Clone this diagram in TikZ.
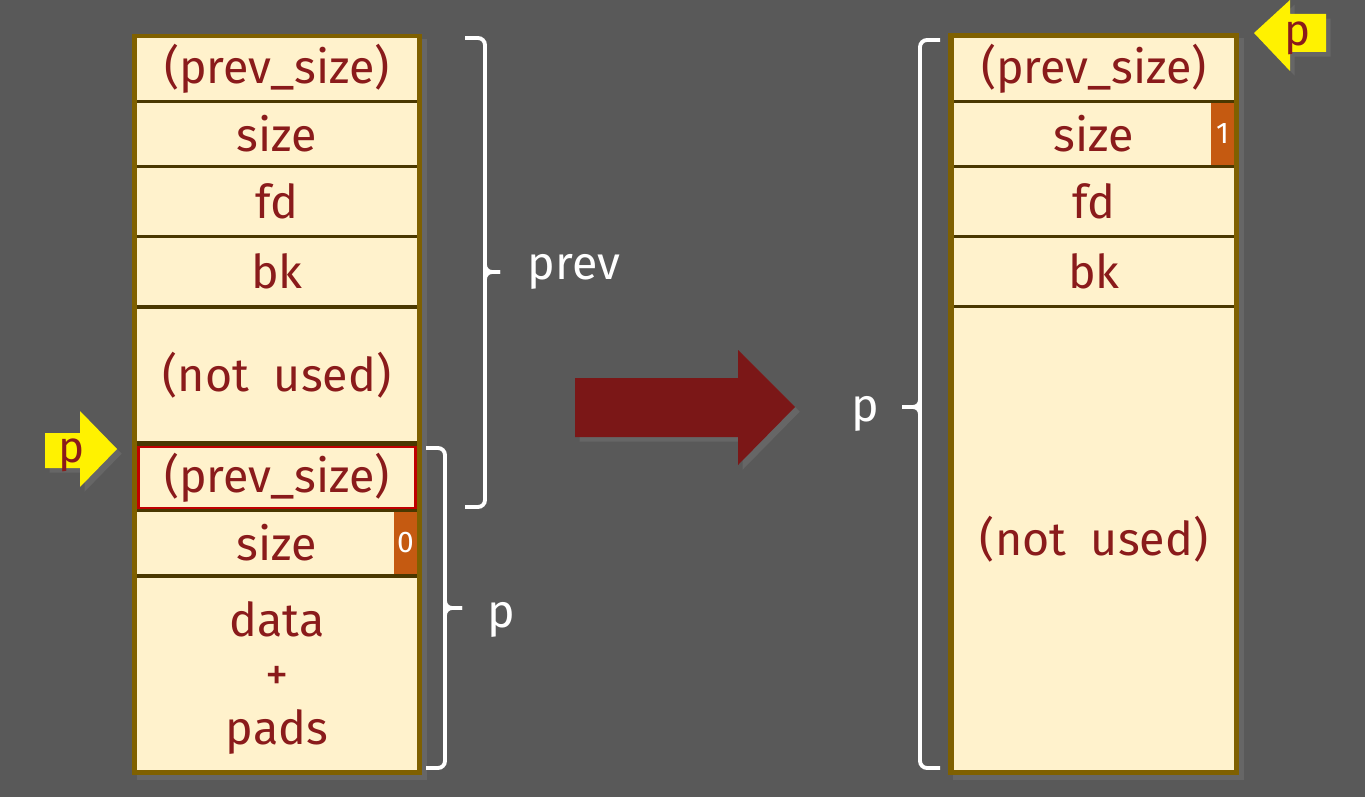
\documentclass[tikz,border=0pt]{standalone}
\usepackage{fontspec}
\setmainfont{Fira Sans}
\usetikzlibrary{shadows}

\definecolor{slidebg}{HTML}{595959}
\definecolor{cellbg}{HTML}{FFF2CC}
\definecolor{frame}{HTML}{7F6000}
\definecolor{sep}{HTML}{4A3800}
\definecolor{celltext}{HTML}{8A1B1B}
\definecolor{tagbg}{HTML}{C55A11}
\definecolor{redline}{HTML}{C00000}
\definecolor{bigarrow}{HTML}{7B1717}

\tikzset{
  cell/.style={fill=cellbg, text=celltext, minimum width=5.6cm, inner sep=0pt,
               font=\fontsize{26.5}{30}\selectfont},
  tag/.style={fill=tagbg, text=white, minimum width=0.46cm, inner sep=0pt,
              font=\fontsize{17}{19}\selectfont},
  brace/.style={draw=white, line width=2.2pt, rounded corners=4pt},
  bracetext/.style={text=white, font=\fontsize{26.5}{30}\selectfont},
  pointer/.style={fill=yellow, drop shadow={opacity=0.35}},
  column/.style={fill=frame, drop shadow={opacity=0.35}}
}

\begin{document}
\begin{tikzpicture}[x=0.02cm,y=-0.02cm]

  \fill[slidebg] (0,0) rectangle (1365,797);
  \useasboundingbox (0,0) rectangle (1365,797);

  % left chunk
  \path[column] (132,34) rectangle (422,775);
  \fill[sep] (137,38) rectangle (417,770);
  \node[cell, minimum height=1.24cm] (lprev)   at (277,69)    {(prev\_size)};
  \node[cell, minimum height=1.24cm] (lsize)   at (277,134)   {size};
  \node[cell, minimum height=1.34cm] (lfd)     at (277,201.5) {fd};
  \node[cell, minimum height=1.34cm] (lbk)     at (277,271.5) {bk};
  \node[cell, minimum height=2.66cm] (lunused) at (277,375)   {(not\ \ used)};
  \node[cell, minimum height=1.22cm, draw=redline, line width=1.5pt,
        minimum width=5.54cm]        (pprev)   at (277,477.5) {(prev\_size)};
  \node[cell, minimum height=1.24cm] (psize)   at (277,543)   {size};
  \node[cell, minimum height=3.84cm] (pdata)   at (277,674)   {};
  \node[text=celltext, font=\fontsize{26.5}{30}\selectfont, align=center]
        (pdatatext) at (277,678) {data\\[1pt]+\\[1pt]pads};
  \node[tag, minimum height=1.24cm, anchor=east] (pbit) at (lsize.east |- psize) {0};

  % right chunk
  \path[column] (948,33) rectangle (1239,775);
  \fill[sep] (954,38) rectangle (1234,770);
  \node[cell, minimum height=1.24cm] (rprev)   at (1094,69)    {(prev\_size)};
  \node[cell, minimum height=1.24cm] (rsize)   at (1094,134)   {size};
  \node[cell, minimum height=1.34cm] (rfd)     at (1094,201.5) {fd};
  \node[cell, minimum height=1.34cm] (rbk)     at (1094,271.5) {bk};
  \node[cell, minimum height=9.24cm] (runused) at (1094,539)   {(not\ \ used)};
  \node[tag, minimum height=1.24cm, anchor=east] (rbit) at (rsize.east) {1};

  % braces
  \draw[brace] (465,38) -| (485,265) -- (485,272) -- (500,272);
  \draw[brace] (500,272) -- (485,272) -- (485,279) |- (465,507);
  \node[bracetext] (prevtext) at (574,272) {prev};

  \draw[brace] (426,448) -| (445,601) -- (445,608) -- (462,608);
  \draw[brace] (462,608) -- (445,608) -- (445,615) |- (426,768);
  \node[bracetext] (ptext) at (501,620) {p};

  \draw[brace] (940,40) -| (920,400) -- (920,407) -- (902,407);
  \draw[brace] (902,407) -- (920,407) -- (920,414) |- (940,768);
  \node[bracetext] (rptext) at (865,414) {p};

  % big arrow
  \fill[bigarrow, drop shadow={opacity=0.35}] (575,378) -- (738,378) -- (738,350)
        -- (795,407) -- (738,465) -- (738,437) -- (575,437) -- cycle;

  % yellow pointers
  \path[pointer] (45,433) -- (80,433) -- (80,411) -- (117,449) -- (80,487)
        -- (80,468) -- (45,468) -- cycle;
  \node[text=celltext, font=\fontsize{25}{28}\selectfont] (lp) at (72,455) {p};

  \path[pointer] (1326,14) -- (1290,14) -- (1290,0) -- (1254,33) -- (1290,71)
        -- (1290,52) -- (1326,52) -- cycle;
  \node[text=celltext, font=\fontsize{25}{28}\selectfont] (rp) at (1298,38) {p};

\end{tikzpicture}
\end{document}
